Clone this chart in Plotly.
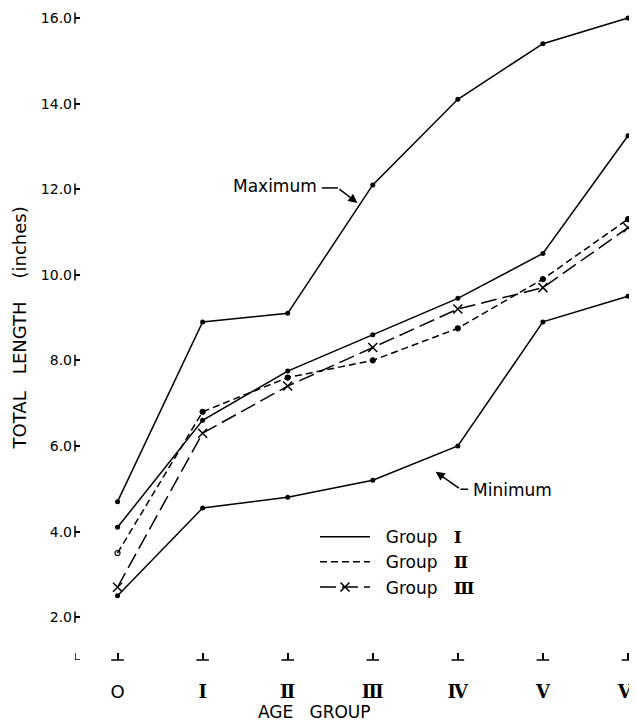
import plotly.graph_objects as go

# ---- data ----
ages = [0, 1, 2, 3, 4, 5, 6]
age_labels = ["<span style='font-family:DejaVu Sans'>O</span>",
              "<b>Ⅰ</b>", "<b>Ⅱ</b>", "<b>Ⅲ</b>", "<b>Ⅳ</b>", "<b>Ⅴ</b>", "<b>Ⅵ</b>"]
maximum = [4.7, 8.9, 9.1, 12.1, 14.1, 15.4, 16.0]
minimum = [2.5, 4.55, 4.8, 5.2, 6.0, 8.9, 9.5]
group1 = [4.1, 6.6, 7.75, 8.6, 9.45, 10.5, 13.25]
group2 = [3.5, 6.8, 7.6, 8.0, 8.75, 9.9, 11.3]
group3 = [2.7, 6.3, 7.4, 8.3, 9.2, 9.7, 11.1]
y_ticks = [2, 4, 6, 8, 10, 12, 14, 16]
y_labels = ["2.0", "4.0", "6.0", "8.0", "10.0", "12.0", "14.0", "16.0"]
group_names = ["Ⅰ", "Ⅱ", "Ⅲ"]

X0, Y0 = -0.5, 1.0
XR = [X0, 6.106]
YR = [Y0, 16.234]

SANS = "DejaVu Sans, Verdana, sans-serif"
SERIF = "DejaVu Serif, Liberation Serif, serif"
INK = "black"


def legend_name(numeral):
    return ("&nbsp;&nbsp;Group&nbsp;&nbsp;&nbsp;"
            "<span style='font-family:DejaVu Serif'><b>" + numeral + "</b></span>")


fig = go.Figure()

dot = dict(size=5, color=INK)

fig.add_trace(go.Scatter(x=ages, y=maximum, mode="lines+markers", showlegend=False,
                         line=dict(color=INK, width=1.5), marker=dot, cliponaxis=False))
fig.add_trace(go.Scatter(x=ages, y=minimum, mode="lines+markers", showlegend=False,
                         line=dict(color=INK, width=1.5), marker=dot, cliponaxis=False))

# Group I: line (legend) + dots
fig.add_trace(go.Scatter(x=ages, y=group1, mode="lines", name=legend_name(group_names[0]),
                         line=dict(color=INK, width=1.5), cliponaxis=False))
fig.add_trace(go.Scatter(x=ages, y=group1, mode="markers", showlegend=False,
                         marker=dot, cliponaxis=False))

# Group II: dashed line (legend) + dots (first one open)
fig.add_trace(go.Scatter(x=ages, y=group2, mode="lines", name=legend_name(group_names[1]),
                         line=dict(color=INK, width=1.5, dash="7px,4px"), cliponaxis=False))
fig.add_trace(go.Scatter(x=ages, y=group2, mode="markers", showlegend=False,
                         marker=dict(size=5, color=INK,
                                     symbol=["circle-open"] + ["circle"] * 6,
                                     line=dict(color=INK, width=1.2)),
                         cliponaxis=False))

# Group III: long dash with x markers
fig.add_trace(go.Scatter(x=ages, y=group3, mode="lines+markers", name=legend_name(group_names[2]),
                         line=dict(color=INK, width=1.5, dash="16px,6px"),
                         marker=dict(symbol="x-thin", size=9, color=INK, line=dict(color=INK, width=1.5)),
                         cliponaxis=False))

# broken axis segments at each tick
fig.add_trace(go.Scatter(x=[X0] * len(y_ticks), y=y_ticks, mode="markers", showlegend=False,
                         hoverinfo="skip", cliponaxis=False,
                         marker=dict(symbol="line-ns", size=8, line=dict(color=INK, width=1.5))))
fig.add_trace(go.Scatter(x=ages, y=[Y0] * len(ages), mode="markers", showlegend=False,
                         hoverinfo="skip", cliponaxis=False,
                         marker=dict(symbol="line-ew", size=9, line=dict(color=INK, width=1.5))))

# corner mark
fig.add_shape(type="line", xref="x", yref="y", xsizemode="pixel", ysizemode="pixel",
              xanchor=X0, yanchor=Y0, x0=0, x1=0, y0=0, y1=7, line=dict(color=INK, width=1.5))
fig.add_shape(type="line", xref="x", yref="y", xsizemode="pixel", ysizemode="pixel",
              xanchor=X0, yanchor=Y0, x0=0, x1=5, y0=0, y1=0, line=dict(color=INK, width=1.5))

# Maximum label with bent arrow
fig.add_annotation(x=1.85, y=12.07, xref="x", yref="y", text="Maximum", showarrow=False,
                   font=dict(family=SANS, size=17, color=INK))
fig.add_shape(type="line", xref="x", yref="y", x0=2.40, x1=2.59, y0=12.03, y1=12.03,
              line=dict(color=INK, width=1.5))
fig.add_annotation(x=2.82, y=11.68, xref="x", yref="y", ax=2.59, ay=12.03, axref="x", ayref="y",
                   text="", showarrow=True, arrowhead=2, arrowsize=1.2, arrowwidth=1.5, arrowcolor=INK)

# Minimum label with bent arrow
fig.add_annotation(x=4.64, y=4.97, xref="x", yref="y", text="Minimum", showarrow=False,
                   font=dict(family=SANS, size=17, color=INK))
fig.add_shape(type="line", xref="x", yref="y", x0=4.03, x1=4.12, y0=4.99, y1=4.99,
              line=dict(color=INK, width=1.5))
fig.add_annotation(x=3.74, y=5.4, xref="x", yref="y", ax=4.03, ay=4.99, axref="x", ayref="y",
                   text="", showarrow=True, arrowhead=2, arrowsize=1.2, arrowwidth=1.5, arrowcolor=INK)

# axis titles
fig.add_annotation(x=0.427, y=-0.080, xref="paper", yref="paper", text="AGE&nbsp;&nbsp;&nbsp;GROUP",
                   showarrow=False, font=dict(family=SANS, size=17, color=INK),
                   xanchor="center", yanchor="middle")
fig.add_annotation(x=-0.098, y=0.51, xref="paper", yref="paper",
                   text="TOTAL&nbsp;&nbsp;&nbsp;LENGTH&nbsp;&nbsp;&nbsp;&nbsp;(inches)",
                   textangle=-90, showarrow=False, font=dict(family=SANS, size=18, color=INK),
                   xanchor="center", yanchor="middle")

# page body has an 8px margin, so the figure is 8px smaller and offsets are compensated
fig.update_layout(
    width=629, height=715,
    margin=dict(l=67, r=0, t=0, b=63, autoexpand=False),
    paper_bgcolor="white", plot_bgcolor="white",
    showlegend=True,
    legend=dict(x=0.427, y=0.216, xanchor="left", yanchor="top",
                font=dict(family=SANS, size=17, color=INK), bgcolor="rgba(0,0,0,0)",
                tracegroupgap=0, itemwidth=50),
    xaxis=dict(range=XR, showgrid=False, zeroline=False, showline=False, automargin=False,
               tickmode="array", tickvals=ages, ticktext=age_labels,
               ticks="inside", ticklen=7, tickwidth=1.5, tickcolor=INK,
               ticklabelstandoff=19, ticklabeloverflow="allow",
               tickfont=dict(family=SERIF, size=18, color=INK)),
    yaxis=dict(range=YR, showgrid=False, zeroline=False, showline=False, automargin=False,
               tickmode="array", tickvals=y_ticks, ticktext=y_labels,
               ticks="inside", ticklen=5, tickwidth=1.5, tickcolor=INK,
               ticklabelstandoff=2, ticklabeloverflow="allow",
               tickfont=dict(family=SANS, size=14, color=INK)),
)

fig.write_html("out.html")
